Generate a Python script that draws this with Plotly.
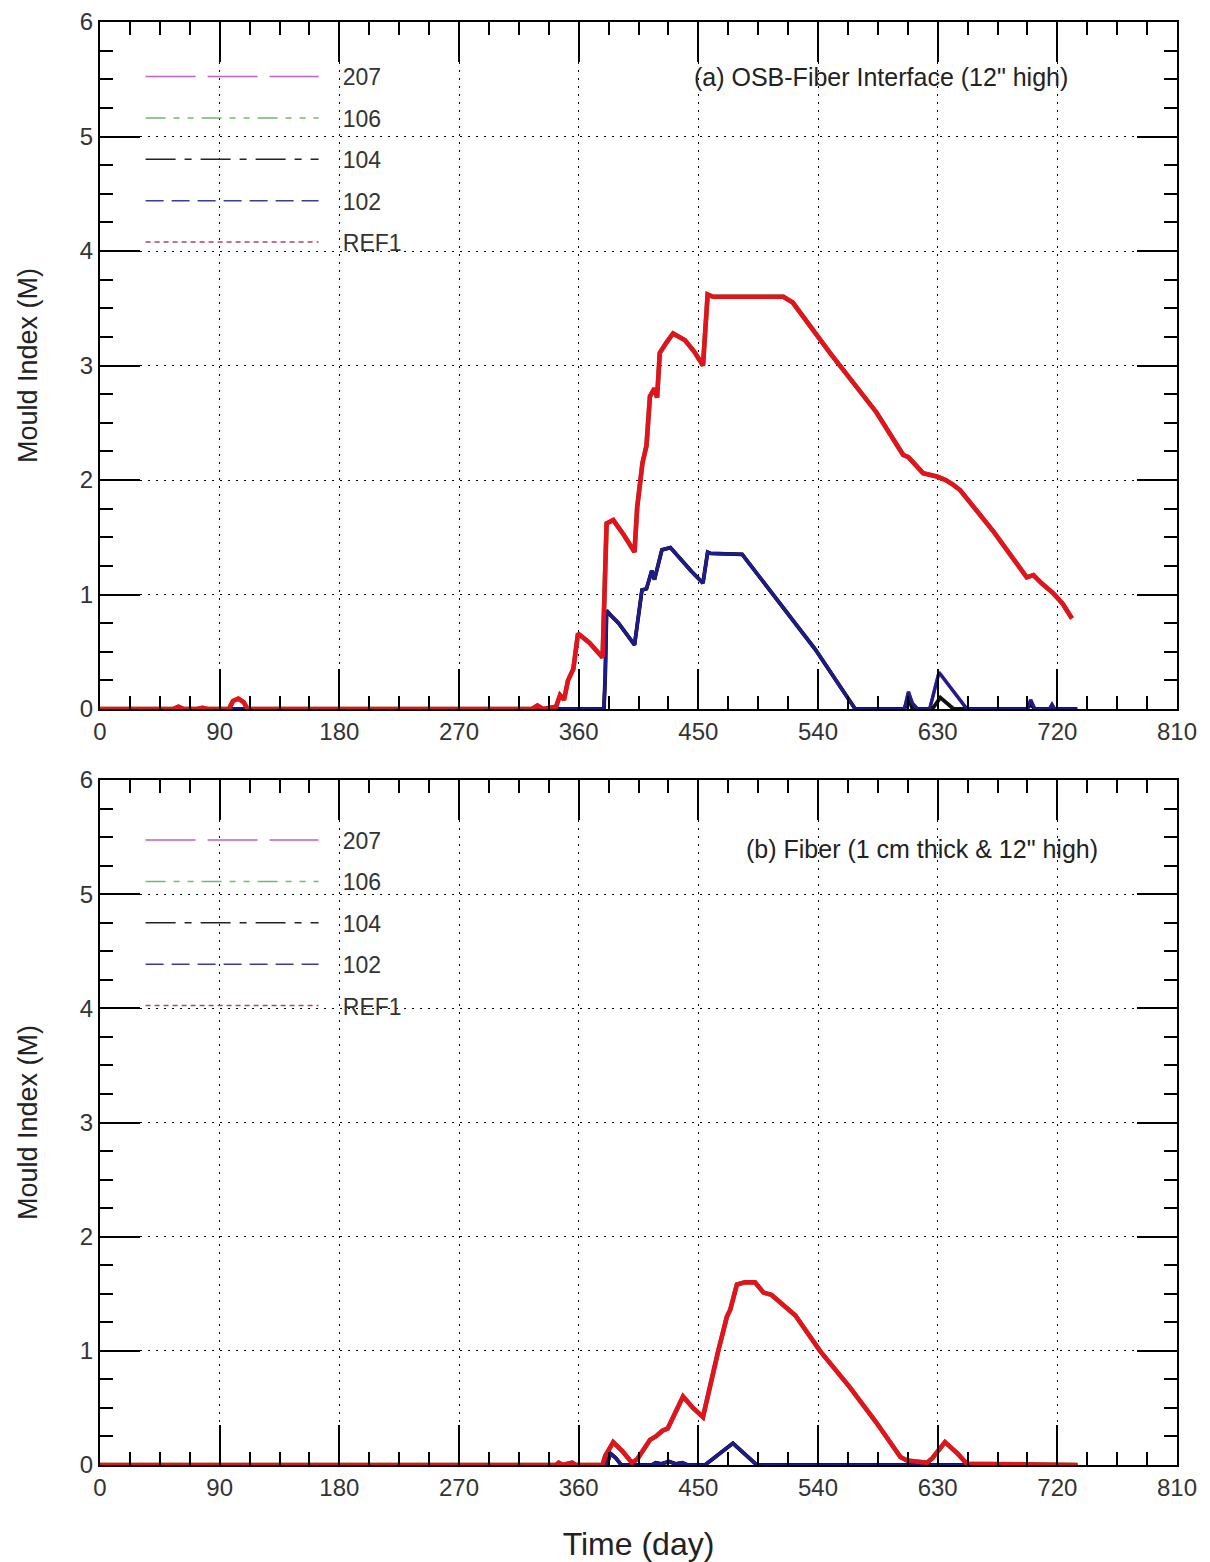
import plotly.graph_objects as go

# ---------------- Data ----------------
series_names = ["207", "106", "104", "102", "REF1"]

# Panel (a) OSB-Fiber interface
a_ref1_day = [0, 55, 59, 63, 73, 77, 81, 97, 100, 104, 108, 111, 325, 329, 333, 343, 346, 349, 352, 356,
              359.5, 368, 378, 379, 381, 386, 394, 402, 404, 408, 411, 413.6, 417, 419, 421, 426, 431,
              440, 447, 453.5, 457, 461, 490, 514, 521, 549, 584, 604, 608, 613, 619, 629.5, 636, 641.5,
              647, 672, 697, 702, 708, 717, 724, 731]
a_ref1_val = [0, 0, 0.02, 0, 0, 0.01, 0, 0, 0.07, 0.09, 0.06, 0, 0, 0.03, 0, 0.02, 0.12, 0.08, 0.25, 0.35,
              0.66, 0.58, 0.45, 0.8, 1.62, 1.65, 1.52, 1.37, 1.76, 2.15, 2.3, 2.73, 2.8, 2.72, 3.11, 3.2, 3.28,
              3.22, 3.12, 3.0, 3.62, 3.6, 3.6, 3.6, 3.55, 3.11, 2.59, 2.22, 2.2, 2.14, 2.06, 2.03, 2.0, 1.96,
              1.91, 1.55, 1.15, 1.17, 1.1, 1.01, 0.92, 0.79]

a_102_day = [0, 379, 380, 381, 384, 390, 402, 404, 407.6, 411, 415, 417, 422.6, 429, 435, 445, 453.5, 457,
             459, 483, 538, 568, 605, 608, 611, 615, 624, 631, 652, 697, 700, 703, 714, 716, 718, 735]
a_102_val = [0, 0, 0.3, 0.86, 0.82, 0.75, 0.56, 0.72, 1.04, 1.05, 1.21, 1.13, 1.39, 1.41, 1.33, 1.2, 1.10, 1.37,
             1.36, 1.35, 0.52, 0, 0, 0.15, 0.05, 0, 0, 0.32, 0, 0, 0.08, 0, 0, 0.04, 0, 0]

a_104_day = [0, 379, 380, 381, 384, 390, 402, 404, 407.6, 411, 415, 417, 422.6, 429, 435, 445, 453.5, 457,
             459, 483, 538, 568, 605, 608, 611, 626, 632, 642, 697, 700, 703, 735]
a_104_val = [0, 0, 0.3, 0.86, 0.82, 0.75, 0.56, 0.72, 1.04, 1.05, 1.21, 1.13, 1.39, 1.41, 1.33, 1.2, 1.10, 1.37,
             1.36, 1.35, 0.52, 0, 0, 0.1, 0, 0, 0.1, 0, 0, 0.04, 0, 0]

a_207_day = a_102_day
a_207_val = a_102_val
a_106_day = a_ref1_day
a_106_val = a_ref1_val

# Panel (b) Fiber
b_ref1_day = [0, 343, 345, 348, 355, 358, 378, 380, 386, 393, 400, 404, 408, 413.6, 418, 423, 427, 431,
              438.5, 446, 453.5, 465, 471.5, 474, 479, 485, 492.6, 499, 505, 511, 523, 541.5, 564, 584,
              597, 602, 607, 613, 622, 626, 635.5, 645, 652, 735]
b_ref1_val = [0, 0, 0.02, 0, 0.02, 0, 0, 0.08, 0.2, 0.12, 0.02, 0.05, 0.12, 0.22, 0.25, 0.3, 0.32, 0.41,
              0.6, 0.5, 0.42, 1.0, 1.3, 1.36, 1.58, 1.6, 1.6, 1.51, 1.49, 1.43, 1.31, 1.0, 0.68, 0.37,
              0.16, 0.07, 0.04, 0.03, 0.02, 0.06, 0.2, 0.1, 0.01, 0]

b_102_day = [0, 381, 384, 388, 392, 415, 418, 422, 428, 433, 438, 442, 455, 476, 494, 735]
b_102_val = [0, 0, 0.1, 0.06, 0, 0, 0.02, 0.01, 0.03, 0.01, 0.02, 0, 0, 0.19, 0, 0]
b_104_day = b_102_day
b_104_val = b_102_val
b_207_day = b_102_day
b_207_val = b_102_val
b_106_day = b_ref1_day
b_106_val = b_ref1_val

x_ticks = [0, 90, 180, 270, 360, 450, 540, 630, 720, 810]
y_ticks = [0, 1, 2, 3, 4, 5, 6]

# ---------------- Styles ----------------
FONT = "Liberation Sans, Arial, sans-serif"
plot_colors = {"207": "#b040b0", "106": "#40a040", "104": "#111111", "102": "#1c1c8c", "REF1": "#e3121c"}
plot_widths = {"207": 3.5, "106": 4.5, "104": 3.8, "102": 3.2, "REF1": 4.6}
legend_colors = {"207": "#c060c8", "106": "#70b870", "104": "#222222", "102": "#3a3aa0", "REF1": "#a84858"}
legend_dash = {"207": "50px,12px", "106": "20px,8px,6px,8px,6px,8px", "104": "30px,9px,7px,9px",
               "102": "18px,8px", "REF1": "5px,4px"}
PAD = "\u00a0\u00a0\u00a0"

fig = go.Figure()

panels = [
    ("x", "y", "legend", {"207": (a_207_day, a_207_val), "106": (a_106_day, a_106_val),
                          "104": (a_104_day, a_104_val), "102": (a_102_day, a_102_val),
                          "REF1": (a_ref1_day, a_ref1_val)}),
    ("x2", "y2", "legend2", {"207": (b_207_day, b_207_val), "106": (b_106_day, b_106_val),
                             "104": (b_104_day, b_104_val), "102": (b_102_day, b_102_val),
                             "REF1": (b_ref1_day, b_ref1_val)}),
]

draw_order = ["106", "207", "104", "102", "REF1"]
for xa, ya, leg, data in panels:
    for name in draw_order:
        d, v = data[name]
        fig.add_trace(go.Scatter(x=d, y=v, mode="lines", xaxis=xa, yaxis=ya, showlegend=False,
                                 line=dict(color=plot_colors[name], width=plot_widths[name]),
                                 hoverinfo="skip"))
    for i, name in enumerate(series_names):
        fig.add_trace(go.Scatter(x=[None], y=[None], mode="lines", xaxis=xa, yaxis=ya, name=PAD + name,
                                 legend=leg, legendgroup=leg + name, legendrank=i,
                                 line=dict(color=legend_colors[name], width=1.5, dash=legend_dash[name])))

axis_common = dict(
    ticks="inside", ticklen=40, tickwidth=1.5, tickcolor="black",
    showline=True, linecolor="black", linewidth=2, mirror="ticks",
    showgrid=True, gridcolor="black", gridwidth=1, griddash="2px,6px",
    zeroline=False, automargin=False, tickfont=dict(family=FONT, size=24, color="#333333"),
)

def xaxis(anchor, show_title):
    d = dict(axis_common, range=[0, 810], tickvals=x_ticks, anchor=anchor,
             minor=dict(dtick=22.5, tick0=0, ticks="inside", ticklen=13, tickwidth=1.5,
                        tickcolor="black", showgrid=False))
    if show_title:
        d["title"] = dict(text="Time (day)", font=dict(family=FONT, size=32, color="#222222"), standoff=33)
    return d

def yaxis(domain, anchor):
    return dict(axis_common, range=[0, 6], tickvals=y_ticks, domain=domain, anchor=anchor,
                minor=dict(dtick=0.25, tick0=0, ticks="inside", ticklen=13, tickwidth=1.5,
                           tickcolor="black", showgrid=False),
                title=dict(text="Mould Index (M)", font=dict(family=FONT, size=27, color="#222222"),
                           standoff=34))

legend_common = dict(bgcolor="rgba(0,0,0,0)", borderwidth=0, itemwidth=173, xanchor="left", yanchor="top",
                     font=dict(family=FONT, size=23, color="#333333"), traceorder="grouped",
                     tracegroupgap=8.5, itemclick=False, itemdoubleclick=False)

fig.update_layout(
    width=1210, height=1562,
    margin=dict(l=92, r=41, t=14, b=105, autoexpand=False),
    paper_bgcolor="white", plot_bgcolor="white",
    xaxis=xaxis("y", False),
    yaxis=yaxis([0.5239, 1.0], "x"),
    xaxis2=xaxis("y2", True),
    yaxis2=yaxis([0.0, 0.4747], "x2"),
    legend=dict(legend_common, x=0.0377, y=0.9771),
    legend2=dict(legend_common, x=0.0377, y=0.448),
    annotations=[
        dict(text="(a) OSB-Fiber Interface (12\" high)", xref="paper", yref="paper", x=0.725, y=0.962,
             showarrow=False, font=dict(family=FONT, size=25, color="#222222"), xanchor="center", yanchor="middle"),
        dict(text="(b) Fiber (1 cm thick & 12\" high)", xref="paper", yref="paper", x=0.763, y=0.4269,
             showarrow=False, font=dict(family=FONT, size=25, color="#222222"), xanchor="center", yanchor="middle"),
    ],
    showlegend=True,
)

fig.write_html("out.html")
